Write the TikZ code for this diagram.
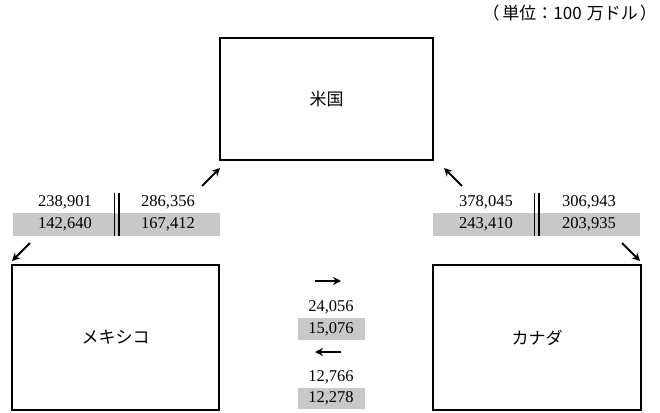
\documentclass[tikz,border=0pt]{standalone}
\usepackage{fontspec}
\setmainfont{Liberation Serif}
\newfontfamily\jpfont{Noto Sans CJK JP}
\usetikzlibrary{arrows.meta}
\definecolor{bargray}{HTML}{C8C8C8}
\tikzset{
  box/.style={draw=black, line width=2pt, inner sep=0pt, font=\jpfont\fontsize{17}{19}\selectfont},
  num/.style={inner sep=0pt, font=\fontsize{16.5}{18}\selectfont},
  bar/.style={fill=bargray, inner sep=0pt},
  flow/.style={line width=1.8pt, -{Stealth[length=8pt,width=8pt]}},
  dbl/.style={line width=1.7pt}
}
\begin{document}
\begin{tikzpicture}[x=1pt,y=-1pt]
\useasboundingbox (0,0) rectangle (660,412);
% unit label
\node[anchor=east, inner sep=0pt, font=\jpfont\fontsize{17}{19}\selectfont] (unit) at (657,13) {（\hspace{3pt}単位：100\hspace{5pt}万ドル\hspace{2pt}）};
% boxes
\node[box, minimum width=213pt, minimum height=122pt] (us) at (326.5,99) {米国};
\node[box, minimum width=207pt, minimum height=145pt] (mex) at (115.5,337.5) {メキシコ};
\node[box, minimum width=208pt, minimum height=145pt] (can) at (537,337.5) {カナダ};
% left block
\node[bar, minimum width=207pt, minimum height=23pt] (lbar) at (116.5,224.5) {};
\node[num] (l1) at (65,202) {238,901};
\node[num] (l2) at (168,202) {286,356};
\node[num] (l3) at (65,224) {142,640};
\node[num] (l4) at (168,224) {167,412};
\coordinate (ld1t) at (114.6,193); \coordinate (ld1b) at (114.6,236);
\coordinate (ld2t) at (118.8,193); \coordinate (ld2b) at (118.8,236);
\draw[dbl] (ld1t) -- (ld1b);
\draw[dbl] (ld2t) -- (ld2b);
% right block
\node[bar, minimum width=207pt, minimum height=23pt] (rbar) at (536.5,224.5) {};
\node[num] (r1) at (486,202) {378,045};
\node[num] (r2) at (589,202) {306,943};
\node[num] (r3) at (486,224) {243,410};
\node[num] (r4) at (589,224) {203,935};
\coordinate (rd1t) at (534.6,193); \coordinate (rd1b) at (534.6,236);
\coordinate (rd2t) at (538.8,193); \coordinate (rd2b) at (538.8,236);
\draw[dbl] (rd1t) -- (rd1b);
\draw[dbl] (rd2t) -- (rd2b);
% diagonal arrows
\coordinate (a1s) at (202,186); \coordinate (a1e) at (220,168);
\coordinate (a2s) at (30,243); \coordinate (a2e) at (12,261);
\coordinate (a3s) at (462,186); \coordinate (a3e) at (444,168);
\coordinate (a4s) at (622,243); \coordinate (a4e) at (640,261);
\draw[flow] (a1s) -- (a1e);
\draw[flow] (a2s) -- (a2e);
\draw[flow] (a3s) -- (a3e);
\draw[flow] (a4s) -- (a4e);
% middle
\coordinate (m1s) at (315,281); \coordinate (m1e) at (341,281);
\draw[flow] (m1s) -- (m1e);
\node[bar, minimum width=67pt, minimum height=22pt] (mbar1) at (331.5,329) {};
\node[num] (m1) at (331,307) {24,056};
\node[num] (m2) at (331,329) {15,076};
\coordinate (m2s) at (341,352); \coordinate (m2e) at (315,352);
\draw[flow] (m2s) -- (m2e);
\node[bar, minimum width=67pt, minimum height=21pt] (mbar2) at (331.5,398.5) {};
\node[num] (m3) at (331,377) {12,766};
\node[num] (m4) at (331,398) {12,278};
\end{tikzpicture}
\end{document}
